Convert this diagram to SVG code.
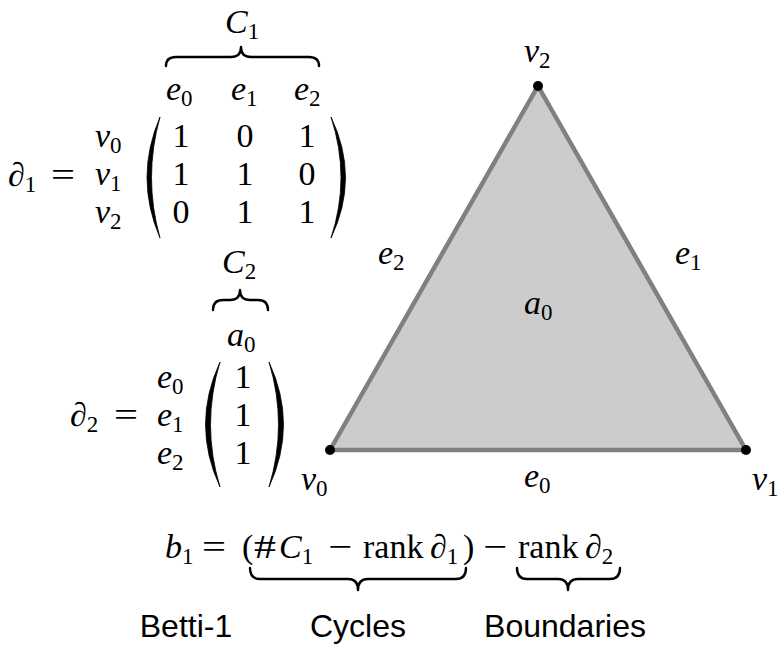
<svg xmlns="http://www.w3.org/2000/svg" width="780" height="646" viewBox="0 0 780 646">
<style>
  text { font-family: "Liberation Serif", "DejaVu Serif", serif; font-size: 34px; fill: #000; }
  .i { font-style: italic; }
  .s { font-size: 23px; font-style: normal; }
  .mid { text-anchor: middle; }
  .lbl { font-family: "Liberation Sans", Arial, sans-serif; font-size: 32px; text-anchor: middle; }
  .brace { fill: none; stroke: #000; stroke-width: 2.4; stroke-linecap: round; stroke-linejoin: round; }
  .paren { fill: #000; stroke: #000; stroke-width: 0.8; }
  .edge { fill: #cccccc; stroke: #808080; stroke-width: 4.5; stroke-linejoin: round; }
  .dot { fill: #000; }
</style>

<g id="matrix-d1">
  <text x="225" y="33" class="i">C<tspan class="s" dy="6">1</tspan></text>
  <path class="brace" d="M166,66 Q166,57 176,57 L231,57 Q241,57 241,47 Q241,57 251,57 L309,57 Q319,57 319,66"/>
  <text x="166" y="100" class="i">e<tspan class="s" dy="6">0</tspan></text>
  <text x="231" y="100" class="i">e<tspan class="s" dy="6">1</tspan></text>
  <text x="294" y="100" class="i">e<tspan class="s" dy="6">2</tspan></text>
  <text x="8" y="186" class="i">∂<tspan class="s" dy="6">1</tspan></text>
  <text x="63" y="186" class="mid" textLength="24" lengthAdjust="spacingAndGlyphs">=</text>
  <text x="95" y="147" class="i">v<tspan class="s" dy="6">0</tspan></text>
  <text x="95" y="185" class="i">v<tspan class="s" dy="6">1</tspan></text>
  <text x="95" y="223" class="i">v<tspan class="s" dy="6">2</tspan></text>
  <path class="paren" d="M160,117 Q134,177.5 160,238 Q143,177.5 160,117 Z"/>
  <path class="paren" d="M331,117 Q360,177.5 331,238 Q351,177.5 331,117 Z"/>
  <text x="181" y="147" class="mid">1</text>
  <text x="245" y="147" class="mid">0</text>
  <text x="307" y="147" class="mid">1</text>
  <text x="181" y="185" class="mid">1</text>
  <text x="245" y="185" class="mid">1</text>
  <text x="307" y="185" class="mid">0</text>
  <text x="181" y="223" class="mid">0</text>
  <text x="245" y="223" class="mid">1</text>
  <text x="307" y="223" class="mid">1</text>
</g>

<g id="matrix-d2">
  <text x="222" y="273" class="i">C<tspan class="s" dy="6">2</tspan></text>
  <path class="brace" d="M213,310 Q213,300 223,300 L230,300 Q240,300 240,290 Q240,300 250,300 L258,300 Q268,300 268,310"/>
  <text x="227" y="346" class="i">a<tspan class="s" dy="6">0</tspan></text>
  <text x="70" y="426" class="i">∂<tspan class="s" dy="6">2</tspan></text>
  <text x="126" y="426" class="mid" textLength="24" lengthAdjust="spacingAndGlyphs">=</text>
  <text x="157" y="388" class="i">e<tspan class="s" dy="6">0</tspan></text>
  <text x="157" y="426" class="i">e<tspan class="s" dy="6">1</tspan></text>
  <text x="157" y="464" class="i">e<tspan class="s" dy="6">2</tspan></text>
  <path class="paren" d="M220,362 Q191,424.5 220,487 Q201,424.5 220,362 Z"/>
  <path class="paren" d="M269,362 Q298,424.5 269,487 Q288,424.5 269,362 Z"/>
  <text x="243" y="388" class="mid">1</text>
  <text x="243" y="426" class="mid">1</text>
  <text x="243" y="464" class="mid">1</text>
</g>

<g id="simplex">
  <polygon class="edge" points="330,450 746,450 538,86"/>
  <circle class="dot" cx="330" cy="450" r="5"/>
  <circle class="dot" cx="746" cy="450" r="5"/>
  <circle class="dot" cx="538" cy="86" r="5"/>
  <text x="524" y="62" class="i">v<tspan class="s" dy="6">2</tspan></text>
  <text x="378" y="264" class="i">e<tspan class="s" dy="6">2</tspan></text>
  <text x="675" y="264" class="i">e<tspan class="s" dy="6">1</tspan></text>
  <text x="524" y="314" class="i">a<tspan class="s" dy="6">0</tspan></text>
  <text x="524" y="487" class="i">e<tspan class="s" dy="6">0</tspan></text>
  <text x="301" y="490" class="i">v<tspan class="s" dy="6">0</tspan></text>
  <text x="752" y="490" class="i">v<tspan class="s" dy="6">1</tspan></text>
</g>

<g id="formula">
  <text x="165" y="558" class="i">b<tspan class="s" dy="6">1</tspan></text>
  <text x="214" y="558" class="mid" textLength="24" lengthAdjust="spacingAndGlyphs">=</text>
  <text x="242" y="558">(</text>
  <text x="265" y="558" class="mid" textLength="22" lengthAdjust="spacingAndGlyphs">#</text>
  <text x="279" y="558" class="i">C<tspan class="s" dy="6">1</tspan></text>
  <text x="340" y="558" class="mid" textLength="24" lengthAdjust="spacingAndGlyphs">−</text>
  <text x="363" y="558">rank</text>
  <text x="430" y="558" class="i">∂<tspan class="s" dy="6">1</tspan></text>
  <text x="463" y="558">)</text>
  <text x="495" y="558" class="mid" textLength="24" lengthAdjust="spacingAndGlyphs">−</text>
  <text x="518" y="558">rank</text>
  <text x="585" y="558" class="i">∂<tspan class="s" dy="6">2</tspan></text>
  <path class="brace" d="M250,568 Q250,579 260,579 L348,579 Q358,579 358,590 Q358,579 368,579 L456,579 Q466,579 466,568"/>
  <path class="brace" d="M517,568 Q517,579 527,579 L558,579 Q568,579 568,590 Q568,579 578,579 L610,579 Q620,579 620,568"/>
  <text x="186" y="637" class="lbl">Betti-1</text>
  <text x="358" y="637" class="lbl">Cycles</text>
  <text x="565" y="637" class="lbl">Boundaries</text>
</g>
</svg>
